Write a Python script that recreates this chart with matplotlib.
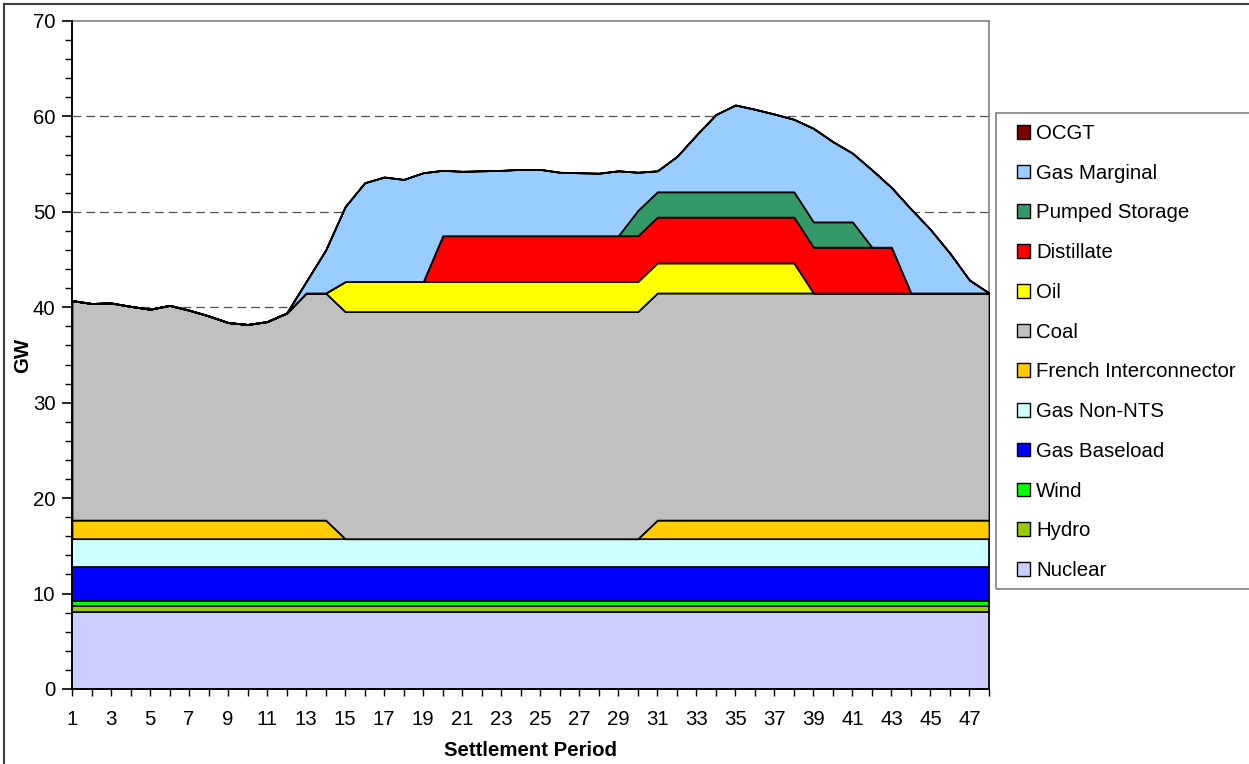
import numpy as np
import matplotlib
matplotlib.use("Agg")
import matplotlib.pyplot as plt
from matplotlib.patches import Patch, Rectangle
from matplotlib.ticker import MultipleLocator

plt.rcParams['font.family'] = ['Liberation Sans', 'DejaVu Sans']

#---Data (GW per settlement period)
periods = list(range(1, 49))

nuclear = [8.05] * 48
hydro = [0.7] * 48
wind = [0.5] * 48
gas_baseload = [3.55] * 48
gas_non_nts = [2.95] * 48
french = [1.95] * 14 + [0.0] * 16 + [1.95] * 18
coal = [23.0, 22.7, 22.75, 22.4, 22.1, 22.5, 22.0, 21.4, 20.7, 20.5, 20.8, 21.7] + [23.8] * 36
oil = [0.0] * 14 + [3.15] * 24 + [0.0] * 10
distillate = [0.0] * 19 + [4.8] * 24 + [0.0] * 5
pumped_storage = [0.0] * 29 + [2.65] * 12 + [0.0] * 7
gas_marginal = [0.0, 0.0, 0.0, 0.0, 0.0, 0.0, 0.0, 0.0, 0.0, 0.0, 0.0, 0.0,
                1.2, 4.5, 7.85, 10.35, 10.95, 10.7, 11.4, 6.85, 6.75, 6.8,
                6.85, 6.95, 6.95, 6.65, 6.6, 6.55, 6.8, 4.0, 2.2, 3.7,
                5.95, 8.1, 9.1, 8.65, 8.15, 7.6, 9.8, 8.4, 7.2, 8.1,
                6.25, 8.8, 6.65, 4.15, 1.35, 0.0]
ocgt = [0.0] * 48

series = [nuclear, hydro, wind, gas_baseload, gas_non_nts, french, coal,
          oil, distillate, pumped_storage, gas_marginal, ocgt]
labels = ["Nuclear", "Hydro", "Wind", "Gas Baseload", "Gas Non-NTS",
          "French Interconnector", "Coal", "Oil", "Distillate",
          "Pumped Storage", "Gas Marginal", "OCGT"]
colors = ["#CCCCFF", "#99CC00", "#00FF00", "#0000FF", "#CCFFFF", "#FFCC00",
          "#C0C0C0", "#FFFF00", "#FF0000", "#339966", "#99CCFF", "#800000"]

FS = 14.7

#---Figure
W, H = 1249, 764
fig = plt.figure(figsize=(W / 100, H / 100), dpi=100)
ax = fig.add_axes([72 / W, 1 - 689 / H, (989 - 72) / W, (689 - 21) / H])

ax.stackplot(periods, *series, colors=colors, edgecolor="black",
             linewidth=1.25, zorder=3)

ax.set_xlim(1, 48)
ax.set_ylim(0, 70)

# gridlines
for yv in range(10, 70, 10):
    ax.axhline(yv, color="#505050", linewidth=0.9, dashes=(7, 4), zorder=1)

ax.yaxis.set_major_locator(MultipleLocator(10))
ax.yaxis.set_minor_locator(MultipleLocator(2))
ax.set_xticks(periods)
ax.set_xticklabels([str(p) if p % 2 == 1 else "" for p in periods])
ax.tick_params(axis="y", which="major", length=7, width=1.2, labelsize=FS, pad=5)
ax.tick_params(axis="y", which="minor", length=5, width=1.0)
ax.tick_params(axis="x", which="major", length=5, width=1.0, labelsize=FS, pad=10)

for s in ("left", "bottom"):
    ax.spines[s].set_color("black")
    ax.spines[s].set_linewidth(1.4)
for s in ("top", "right"):
    ax.spines[s].set_color("#808080")
    ax.spines[s].set_linewidth(1.2)
ax.spines["left"].set_zorder(5)
ax.spines["bottom"].set_zorder(5)

ax.set_ylabel("GW", fontsize=FS, fontweight="bold", va="center")
ax.yaxis.set_label_coords((23 - 72) / 917, 0.5)
ax.set_xlabel("Settlement Period", fontsize=FS, fontweight="bold", va="center")
ax.xaxis.set_label_coords(0.5, (689 - 750) / 668)

# legend, top entry first; frame drawn separately
handles = [Patch(facecolor=c, edgecolor="black", linewidth=1.0) for c in colors]
leg = fig.legend(handles[::-1], labels[::-1], loc="upper left",
                 bbox_to_anchor=(1017 / W, 1 - 124 / H),
                 fontsize=FS, frameon=False,
                 handlelength=0.65, handleheight=0.65, handletextpad=0.28,
                 labelspacing=1.015, borderpad=0, borderaxespad=0)
fig.add_artist(Rectangle((996 / W, 1 - 589 / H), 0.3, (589 - 113) / H,
                         transform=fig.transFigure, fill=False,
                         edgecolor="#808080", linewidth=1.2))

# chart area border
fig.add_artist(Rectangle((4 / W, -0.1), 1.2, 1 - 4 / H + 0.1,
                         transform=fig.transFigure, fill=False,
                         edgecolor="#404040", linewidth=1.5))

fig.savefig("out.png", dpi=100)
